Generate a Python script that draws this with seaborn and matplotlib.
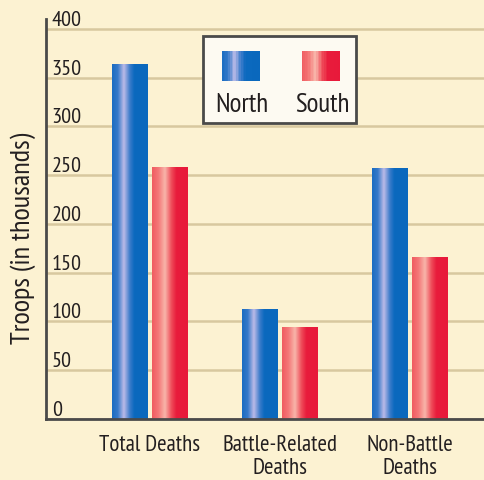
import numpy as np
import pandas as pd
import matplotlib
matplotlib.use("Agg")
import matplotlib.pyplot as plt
from matplotlib.patches import Rectangle, Patch
from matplotlib.colors import LinearSegmentedColormap
import seaborn as sns

# data (thousands of troops)
categories = ["Total Deaths", "Battle-Related\nDeaths", "Non-Battle\nDeaths"]
sides = ["North", "South"]
north = [364, 112, 257]
south = [258, 94, 166]
y_ticks = [0, 50, 100, 150, 200, 250, 300, 350, 400]

blue = "#0b6abe"
red = "#e81c3c"
cream = "#fcf2d2"
grid_col = "#d8c89f"
ink = "#231f20"

# horizontal shading across each bar (light stripe on the left third)
blue_cmap = LinearSegmentedColormap.from_list("blue_bar", [
    (0.0, "#1a6cc2"), (0.16, "#3579c9"), (0.33, "#bcbbe8"),
    (0.50, "#3a7bca"), (0.62, "#0b69be"), (1.0, "#0a68bd")])
red_cmap = LinearSegmentedColormap.from_list("red_bar", [
    (0.0, "#f05b60"), (0.18, "#f47878"), (0.36, "#f8b5aa"),
    (0.54, "#ef4d5a"), (0.68, "#e81c3c"), (1.0, "#e8193a")])

df = pd.DataFrame({
    "category": categories * 2,
    "side": ["North"] * len(north) + ["South"] * len(south),
    "troops": north + south,
})

sns.set_theme(style="white")
plt.rcParams["font.family"] = ["PT Sans Narrow", "DejaVu Sans"]

fig = plt.figure(figsize=(4.85, 4.81), dpi=100)
fig.patch.set_facecolor(cream)
ax = fig.add_axes([0.095, 0.127, 0.905, 0.831])
ax.set_facecolor(cream)

sns.barplot(data=df, x="category", y="troops", hue="side", palette=[blue, red],
            width=0.615, gap=0.12, saturation=1, errorbar=None, legend=False,
            linewidth=0, ax=ax, zorder=3)

# paint the gradient over every bar, using the bar geometry seaborn produced
grad = np.linspace(0, 1, 256).reshape(1, -1)
for cont, cmap in zip(ax.containers, [blue_cmap, red_cmap]):
    for bar in cont:
        x0, w, h = bar.get_x(), bar.get_width(), bar.get_height()
        ax.imshow(grad, cmap=cmap, extent=[x0, x0 + w, 0, h], aspect="auto",
                  interpolation="bilinear", zorder=4)

ax.set_xlim(-0.8, 2.577)
ax.set_ylim(0, 410)

# grid + tick labels sitting just above each grid line
ax.set_yticks(y_ticks, labels=[str(v) for v in y_ticks], ha="left", va="bottom")
ax.yaxis.grid(True, color=grid_col, lw=1.8)
ax.set_axisbelow(True)
ax.tick_params(axis="y", length=0, pad=-4, labelsize=16, labelcolor=ink)
ax.tick_params(axis="x", length=0, pad=11, labelsize=16.5, labelcolor=ink)
for lbl in ax.get_xticklabels():
    lbl.set_linespacing(1.1)

ax.set_xlabel("")
ax.set_ylabel("Troops (in thousands)", fontsize=20.5, color=ink)
ax.yaxis.set_label_coords(-0.022, 0.455)

for s in ["top", "right"]:
    ax.spines[s].set_visible(False)
for s in ["left", "bottom"]:
    ax.spines[s].set_color("#4a4a4a")
    ax.spines[s].set_linewidth(2)
    ax.spines[s].set_zorder(5)


class StripeHandler:
    """striped swatch drawn above its label (sizes in points)"""
    def __init__(self, cmap):
        self.cmap = cmap

    def legend_artist(self, legend, orig_handle, fontsize, handlebox):
        x0, y0, w, h = 8.8, 5.5, 27.4, 21.6
        n = 24
        for i in range(n):
            r = Rectangle((x0 + w * i / n, y0), w / n + 0.2, h,
                          fc=self.cmap((i + 0.5) / n), ec="none",
                          transform=handlebox.get_transform())
            handlebox.add_artist(r)
        return r


h_north = Patch(fc=blue)
h_south = Patch(fc=red)
leg = ax.legend([h_north, h_south], ["\n" + s for s in sides],
                ncol=2, loc="upper left", mode="expand",
                bbox_to_anchor=(0.3576, 0.7575, 0.3485, 0.2),
                borderaxespad=0, fontsize=19.5, handlelength=1.0, handleheight=0.7,
                handletextpad=-0.81, columnspacing=1.0,
                borderpad=0.25, frameon=True, fancybox=False, framealpha=1,
                facecolor="#fdfaf2", edgecolor="#4a4a4a",
                handler_map={h_north: StripeHandler(blue_cmap),
                             h_south: StripeHandler(red_cmap)})
leg.get_frame().set_linewidth(2)
leg.set_zorder(6)
for t in leg.get_texts():
    t.set_color(ink)
    t.set_linespacing(2.33)

fig.savefig("out.png", dpi=100, facecolor=cream)
